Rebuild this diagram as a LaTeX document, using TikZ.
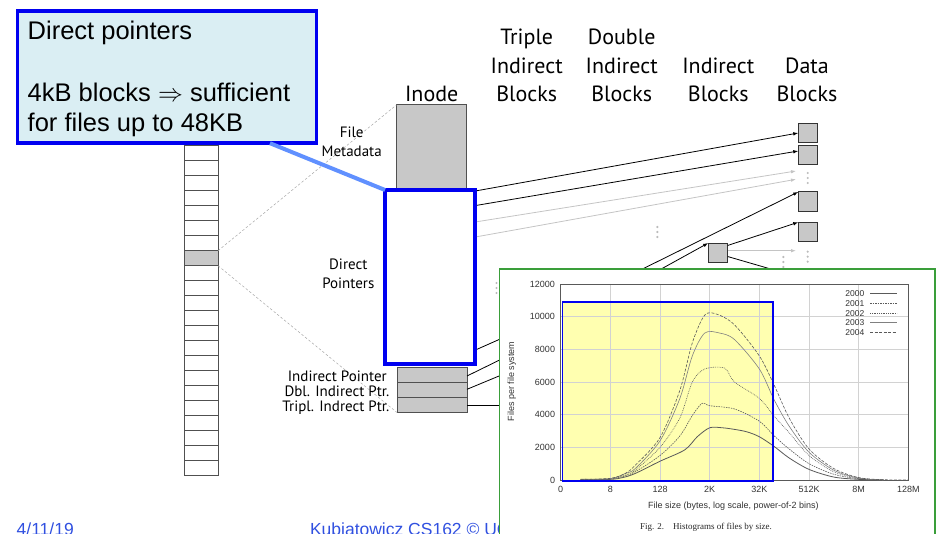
\documentclass[tikz,border=0pt]{standalone}
\usepackage{fontspec}
\setmainfont{Liberation Sans}
\newfontfamily\labelfont{PT Sans}
\newfontfamily\capfont{Liberation Serif}
\usetikzlibrary{arrows.meta,calc}

\definecolor{calloutfill}{HTML}{DAEEF3}
\definecolor{hiblue}{HTML}{0000F0}
\definecolor{linkblue}{HTML}{6090FF}
\definecolor{blockgray}{HTML}{C8C8C8}
\definecolor{edgegray}{HTML}{505050}
\definecolor{footblue}{HTML}{3050E0}
\definecolor{framegreen}{HTML}{3A9E3A}
\definecolor{hiyellow}{HTML}{FFFFB0}
\definecolor{curvegray}{HTML}{5A5A5A}
\definecolor{dotgray}{HTML}{BBBBBB}
\definecolor{lightptr}{HTML}{C4C4C4}

\begin{document}
\begin{tikzpicture}[x=1pt,y=-1pt,
  every node/.style={inner sep=0pt, outer sep=0pt},
  cell/.style={draw=edgegray, line width=0.8pt, minimum width=34pt, minimum height=15pt, anchor=north west},
  gblock/.style={draw=edgegray, fill=blockgray, line width=0.9pt},
  dblock/.style={draw=black!80, fill=blockgray, line width=0.9pt, minimum width=19.5pt, minimum height=19.5pt},
  hdr/.style={font=\labelfont\fontsize{22}{26}\selectfont, anchor=base},
  small/.style={font=\labelfont\fontsize{15}{18}\selectfont},
  callouttext/.style={font=\fontsize{25.5}{30}\selectfont, anchor=base west},
  foot/.style={font=\fontsize{17.5}{20}\selectfont, text=footblue, anchor=base west},
  ptr/.style={line width=0.8pt, black},
  ptrarrow/.style={ptr, -{Latex[length=5pt,width=3.6pt]}},
  ghostarrow/.style={line width=0.8pt, lightptr, -{Latex[length=5pt,width=3.6pt]}},
  guide/.style={gray!70, line width=0.5pt, dash pattern=on 2.5pt off 2pt},
  tick/.style={font=\fontsize{9}{10}\selectfont, text=black!80},
  curve/.style={curvegray, line width=0.6pt},
  yr2000/.style={line width=0.8pt},
  yr2001/.style={dash pattern=on 1.5pt off 1pt},
  yr2002/.style={dash pattern=on 0.8pt off 1pt},
  yr2003/.style={gray},
  yr2004/.style={dash pattern=on 3pt off 1.5pt},
]
\useasboundingbox (0,0) rectangle (941,534);

% ---- file block array ----
\foreach \k in {0,...,22} {
  \node[cell] (c\k) at (184,{130.7+15*\k}) {};
}
\node[cell, fill=blockgray] (c8) at (184,250.7) {};

% ---- inode ----
\node[gblock, minimum width=70pt, minimum height=85.3pt] (meta) at (431.7,147.4) {};
\node[gblock, minimum width=70pt, minimum height=15pt] (ind) at (432,375) {};
\node[gblock, minimum width=70pt, minimum height=15pt] (dbl) at (432,390) {};
\node[gblock, minimum width=70pt, minimum height=15pt] (tpl) at (432,405) {};

% zoom guides from the highlighted block to the inode
\draw[guide] (c8.north east) -- (meta.north west);
\draw[guide] (c8.south east) -- (tpl.south west);

% ---- labels ----
\node[hdr] (hInode) at (431.7,101.7) {Inode};
\node[hdr] (hT1) at (526.7,45) {Triple};
\node[hdr] (hT2) at (526.7,73.3) {Indirect};
\node[hdr] (hT3) at (526.7,101.7) {Blocks};
\node[hdr] (hD1) at (621.7,45) {Double};
\node[hdr] (hD2) at (621.7,73.3) {Indirect};
\node[hdr] (hD3) at (621.7,101.7) {Blocks};
\node[hdr] (hI2) at (718.3,73.3) {Indirect};
\node[hdr] (hI3) at (718.3,101.7) {Blocks};
\node[hdr] (hB2) at (807,73.3) {Data};
\node[hdr] (hB3) at (807,101.7) {Blocks};

\node[small, anchor=base] (lFile) at (351.7,138) {File};
\node[small, anchor=base] (lMeta) at (351.7,156.7) {Metadata};
\node[small, anchor=base] (lDir1) at (348.3,270) {Direct};
\node[small, anchor=base] (lDir2) at (348.3,288) {Pointers};
\node[small, anchor=base east] (lInd) at (386.7,381) {Indirect Pointer};
\node[small, anchor=base east] (lDbl) at (389.3,396.7) {Dbl. Indirect Ptr.};
\node[small, anchor=base east] (lTpl) at (389.3,411.7) {Tripl. Indrect Ptr.};

% ---- data blocks and an indirect block ----
\node[dblock] (d1) at (808,133) {};
\node[dblock] (d2) at (808,155) {};
\node[dblock] (d3) at (808,201.7) {};
\node[dblock] (d4) at (808,232) {};
\node[dblock] (ib) at (718,252.8) {};

% elision dots
\foreach \x/\y in {807.7/173, 807.7/251.7, 657.3/227, 783.3/257, 496.5/283} {
  \foreach \j in {0,1,2} \fill[dotgray] (\x,{\y+5*\j}) circle (1.2pt);
}

% ---- pointers out of the direct block ----
\node[draw=hiblue, line width=4pt, fill=white, minimum width=90pt, minimum height=174pt] (dp) at (430,277) {};
\coordinate (p1) at ($(dp.north east)+(2,0.7)$);
\coordinate (p2) at ($(dp.north east)+(2,15.3)$);
\coordinate (p3) at ($(dp.north east)+(2,31.7)$);
\coordinate (p4) at ($(dp.north east)+(2,46.7)$);
\coordinate (p5) at ($(dp.south east)+(2,-14.7)$);
\coordinate (g1) at (796,171);
\coordinate (g2) at (796,179.3);
\coordinate (g3) at (796,250.7);

\draw[ptrarrow] (p1) -- (d1.west);
\draw[ptrarrow] (p2) -- ($(d2.west)+(0,-4)$);
\draw[ghostarrow] (p3) -- (g1);
\draw[ghostarrow] (p4) -- (g2);

% pointers continuing underneath the histogram
\coordinate (hA) at (540,321.4);
\coordinate (hB) at (540,340.2);
\coordinate (hC) at (540,359);
\coordinate (hD) at (540,405);
\coordinate (hE) at (600,290);
\coordinate (hF) at (623.3,289.9);
\coordinate (hG) at (800,277.5);
\draw[ptr] (p5) -- (hA);
\draw[ptr] ($(ind.east)+(0,1)$) -- (hB);
\draw[ptr] ($(dbl.east)+(0,-0.7)$) -- (hC);
\draw[ptr] (tpl.east) -- (hD);
\draw[ptrarrow] (hE) -- (d3.north west);
\draw[ptrarrow] (hF) -- (ib.north west);
\draw[ptrarrow] ($(ib.north east)+(0,2.4)$) -- (d4.north west);
\draw[ghostarrow] ($(ib.east)+(0,-2.1)$) -- (g3);
\draw[ptr] ($(ib.south east)+(0,-6)$) -- (hG);

% ---- callout ----
\node[draw=hiblue, line width=3.6pt, fill=calloutfill, minimum width=298.8pt, minimum height=132.4pt, anchor=north west] (callout) at (17.5,10.8) {};
\draw[linkblue, line width=4pt] ($(callout.south west)!0.845!(callout.south east)$) -- (dp.north west);
\node[callouttext] (t1) at (27.7,39.3) {Direct pointers};
\node[callouttext] (t2) at (27.7,101.5) {4kB blocks $\Rightarrow$ sufficient};
\node[callouttext] (t3) at (27.7,131.5) {for files up to 48KB};

% ---- footer ----
\node[foot] (date) at (16.7,535.3) {4/11/19};
\node[foot] (credit) at (310,535.3) {Kubiatowicz CS162 \textcopyright{} UCB};

% ---- histogram of file sizes ----
\node[draw=framegreen, fill=white, line width=1.3pt, minimum width=435.7pt, minimum height=290pt, anchor=north west] (chart) at (499.3,269) {};

\fill[hiyellow] (562.3,301.7) rectangle (772.7,480.7);
\foreach \i in {1,...,6} \draw[gray!35, line width=0.4pt] ({560.7+49.66*\i},284) -- ({560.7+49.66*\i},480);
\foreach \i in {1,...,5} \draw[gray!35, line width=0.4pt] (560.7,{480-32.67*\i}) -- (908.3,{480-32.67*\i});
\draw[gray!70!black, line width=0.6pt] (560.7,284) rectangle (908.3,480);

\foreach \v [count=\i from 0] in {0,2000,4000,6000,8000,10000,12000}
  \node[tick, anchor=base east] (yl\i) at (555,{480-32.67*\i+3.2}) {\v};
\foreach \v [count=\i from 0] in {0,8,128,2K,32K,512K,8M,128M}
  \node[tick, anchor=base] (xl\i) at ({560.7+49.66*\i},492.3) {\v};
\node[tick, anchor=base] (xtitle) at (733.3,508.3) {File size (bytes, log scale, power-of-2 bins)};
\node[tick, rotate=90] (ytitle) at (511.7,381.7) {Files per file system};
\node[anchor=base, font=\capfont\fontsize{9}{10}\selectfont, text=black!85] (fig) at (706,529.3) {Fig. 2.\quad Histograms of files by size.};

% curves: x in tick steps, y in files per file system
\begin{scope}[shift={(560.7,480)}, x=49.66pt, y=0.016333pt]
  \draw[curve, yr2000] plot[smooth, tension=0.5] coordinates
    {(0.4,40) (1,40) (1.25,150) (1.5,400) (2,1150) (2.5,1850) (2.75,2650) (3,3200) (3.25,3200) (3.5,3100) (3.75,2950) (4,2650) (4.3,2050) (4.6,1350) (5,650) (5.5,180) (6,40) (6.5,0)};
  \draw[curve, yr2001] plot[smooth, tension=0.5] coordinates
    {(0.4,40) (1,60) (1.3,250) (1.5,500) (2,1500) (2.4,2700) (2.66,4000) (2.85,4700) (3,4550) (3.5,4350) (4,3600) (4.3,2700) (4.6,1900) (5,1000) (5.5,350) (6,80) (6.5,0)};
  \draw[curve, yr2002] plot[smooth, tension=0.5] coordinates
    {(0.4,40) (1,80) (1.3,300) (1.5,600) (2,2000) (2.4,3800) (2.65,6000) (2.9,6800) (3.3,6850) (3.5,6000) (4,5000) (4.3,3900) (4.6,2900) (5,1500) (5.5,500) (6,100) (6.5,0)};
  \draw[curve, yr2003] plot[smooth, tension=0.5] coordinates
    {(0.4,40) (1,80) (1.3,400) (1.5,700) (2,2400) (2.4,5000) (2.65,7600) (2.9,9000) (3.2,9000) (3.5,8600) (4,6800) (4.3,4900) (4.6,3300) (5,1700) (5.5,600) (6,120) (6.5,0)};
  \draw[curve, yr2004] plot[smooth, tension=0.5] coordinates
    {(0.4,40) (1,100) (1.3,400) (1.5,900) (2,2600) (2.4,5500) (2.65,8400) (2.9,10100) (3.15,10150) (3.5,9500) (4,7600) (4.3,5800) (4.6,3800) (5,1900) (5.5,700) (6,150) (6.5,20) (7,0)};
\end{scope}

% legend
\foreach \yr/\yy in {2000/296, 2001/306, 2002/316, 2003/325.7, 2004/335.3} {
  \node[font=\fontsize{8.5}{9}\selectfont, text=black!80, anchor=base east] (lg\yr) at (864.3,\yy) {\yr};
  \draw[curve, yr\yr] (870,\yy-3) -- (897,\yy-3);
}

\draw[hiblue, line width=1.6pt] (562.3,301.7) rectangle (772.7,480.7);
\end{tikzpicture}
\end{document}
